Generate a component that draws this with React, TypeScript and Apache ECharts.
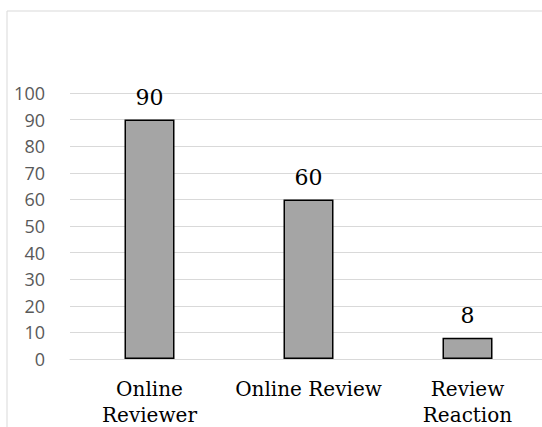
import React, { useEffect, useRef } from "react";
import * as echarts from "echarts";

const categories = ["Online\nReviewer", "Online Review", "Review\nReaction"];
const values = [90, 60, 8];
const yMin = 0;
const yMax = 100;
const yInterval = 10;

export default function App() {
  const ref = useRef<HTMLDivElement>(null);
  useEffect(() => {
    if (!ref.current) return;
    const chart = echarts.init(ref.current, undefined, { renderer: "svg" });
    chart.setOption({
      animation: false,
      backgroundColor: "#ffffff",
      graphic: [
        {
          type: "rect",
          shape: { x: 7, y: 11, width: 700, height: 600 },
          style: { fill: "none", stroke: "#d9d9d9", lineWidth: 1 },
          silent: true,
        },
      ],
      grid: { left: 70, right: -5, top: 93, bottom: 68, outerBoundsMode: "none", containLabel: false },
      xAxis: {
        type: "category",
        data: categories,
        axisLine: { show: true, lineStyle: { color: "#d9d9d9", width: 1 } },
        axisTick: { show: false },
        axisLabel: {
          color: "#000000",
          fontFamily: "DejaVu Serif",
          fontSize: 20,
          lineHeight: 26,
          margin: 17,
          interval: 0,
        },
      },
      yAxis: {
        type: "value",
        min: yMin,
        max: yMax,
        interval: yInterval,
        axisLine: { show: false },
        axisTick: { show: false },
        splitLine: { lineStyle: { color: "#d9d9d9", width: 1 } },
        axisLabel: {
          color: "#595959",
          fontFamily: "Open Sans",
          fontSize: 18,
          margin: 25,
        },
      },
      series: [
        {
          type: "bar",
          data: values,
          barWidth: 50,
          itemStyle: { color: "#a5a5a5", borderColor: "#000000", borderWidth: 1.5 },
          label: {
            show: true,
            position: "top",
            distance: 11,
            color: "#000000",
            fontFamily: "DejaVu Serif",
            fontSize: 22,
          },
        },
      ],
    });
    return () => chart.dispose();
  }, []);
  return (
    <div
      ref={ref}
      style={{ position: "fixed", left: 0, top: 0, width: 542, height: 427 }}
    />
  );
}
